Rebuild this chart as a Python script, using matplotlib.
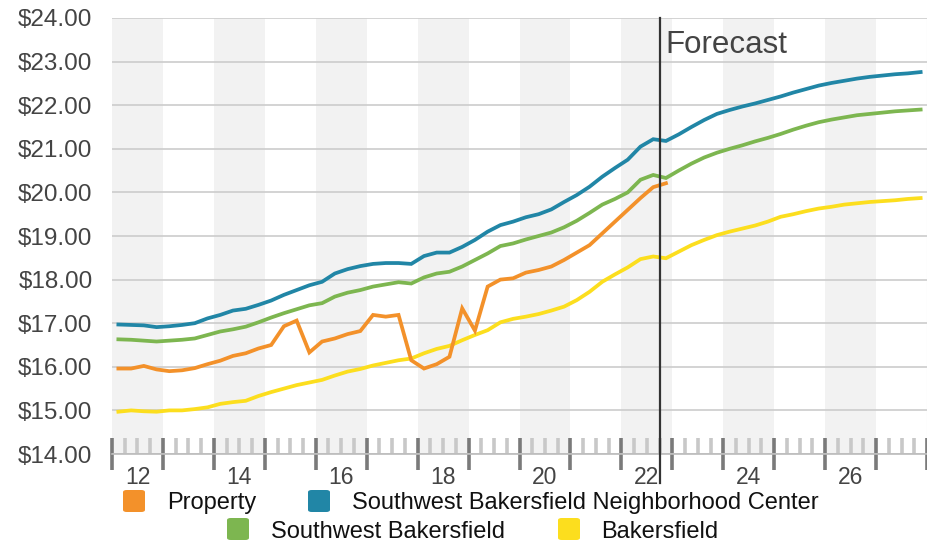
#################################
######## Library Imports ########
#################################
import numpy as np
import matplotlib
matplotlib.use("Agg")
import matplotlib.pyplot as plt
from matplotlib.patches import FancyBboxPatch

plt.rcParams['font.family'] = ['Liberation Sans', 'DejaVu Sans']

######################################
########## Data (quarterly) ##########
######################################
# rent per sq ft, quarterly from 2012 Q1 to 2027 Q4
start_year = 12
property_rent = [15.96, 15.96, 16.02, 15.94, 15.90, 15.92, 15.97, 16.06, 16.14, 16.25, 16.31, 16.42,
                 16.50, 16.93, 17.06, 16.33, 16.58, 16.65, 16.75, 16.82, 17.19, 17.15, 17.19, 16.15,
                 15.96, 16.06, 16.23, 17.34, 16.83, 17.84, 18.00, 18.03, 18.16, 18.22, 18.30, 18.45,
                 18.62, 18.79, 19.06, 19.33, 19.60, 19.87, 20.12, 20.21]
nbhd_center = [16.97, 16.96, 16.95, 16.91, 16.93, 16.96, 17.00, 17.11, 17.19, 17.29, 17.33, 17.42,
               17.52, 17.65, 17.76, 17.87, 17.95, 18.14, 18.24, 18.31, 18.36, 18.38, 18.38, 18.36,
               18.54, 18.62, 18.62, 18.75, 18.91, 19.10, 19.25, 19.33, 19.43, 19.50, 19.61, 19.78,
               19.94, 20.13, 20.36, 20.56, 20.75, 21.05, 21.22, 21.18, 21.33, 21.50, 21.66, 21.80,
               21.89, 21.97, 22.04, 22.12, 22.20, 22.29, 22.37, 22.45, 22.51, 22.56, 22.61, 22.65,
               22.68, 22.71, 22.73, 22.76]
sw_bakersfield = [16.63, 16.62, 16.60, 16.58, 16.60, 16.62, 16.65, 16.73, 16.81, 16.86, 16.92, 17.02,
                  17.13, 17.23, 17.32, 17.41, 17.46, 17.61, 17.70, 17.76, 17.84, 17.89, 17.94, 17.91,
                  18.05, 18.14, 18.18, 18.30, 18.45, 18.60, 18.77, 18.83, 18.92, 19.00, 19.08, 19.20,
                  19.35, 19.53, 19.72, 19.85, 20.00, 20.29, 20.40, 20.33, 20.50, 20.66, 20.80, 20.91,
                  21.00, 21.08, 21.17, 21.25, 21.34, 21.44, 21.53, 21.61, 21.67, 21.72, 21.77, 21.80,
                  21.83, 21.86, 21.88, 21.90]
bakersfield = [14.97, 15.00, 14.98, 14.97, 15.00, 15.00, 15.03, 15.07, 15.15, 15.19, 15.22, 15.33,
               15.42, 15.50, 15.58, 15.64, 15.70, 15.80, 15.89, 15.95, 16.03, 16.09, 16.15, 16.19,
               16.31, 16.41, 16.48, 16.61, 16.73, 16.84, 17.02, 17.10, 17.15, 17.21, 17.29, 17.38,
               17.53, 17.72, 17.95, 18.12, 18.28, 18.47, 18.53, 18.49, 18.64, 18.79, 18.91, 19.02,
               19.10, 19.17, 19.24, 19.33, 19.44, 19.50, 19.57, 19.63, 19.67, 19.72, 19.75, 19.78,
               19.80, 19.82, 19.85, 19.87]

year_labels = ["12", "14", "16", "18", "20", "22", "24", "26"]
y_ticks = [14, 15, 16, 17, 18, 19, 20, 21, 22, 23, 24]
forecast_at = 22.75

series_names = ["Property", "Southwest Bakersfield Neighborhood Center",
                "Southwest Bakersfield", "Bakersfield"]
series_colors = ["#F3912A", "#2186A6", "#7DB650", "#FCDE1E"]

#quarter centres
def quarters(n):
    return start_year + (np.arange(n) + 0.5) / 4.0

##########################################
################ Plotting ################
##########################################
fig = plt.figure(figsize=(9.28, 5.43), dpi=100)
W, H = 928, 543
ax = fig.add_axes([112 / W, 1 - 454 / H, 815 / W, 436 / H])

# alternating year bands
for yr in range(12, 28, 2):
    ax.axvspan(yr, yr + 1, color="#f2f2f2", lw=0, zorder=0)

data = [nbhd_center, sw_bakersfield, bakersfield, property_rent]
colors = [series_colors[1], series_colors[2], series_colors[3], series_colors[0]]
for vals, c in zip(data, colors):
    ax.plot(quarters(len(vals)), vals, color=c, lw=2.7, solid_joinstyle="miter", zorder=3)

ax.set_xlim(12, 28)
ax.set_ylim(14, 24)

# y axis
ax.set_yticks(y_ticks)
ax.set_yticklabels(["${:.2f}".format(v) for v in y_ticks], fontsize=17.5, color="#444444")
ax.tick_params(axis="y", length=0, pad=14)
ax.yaxis.grid(True, color="#cccccc", lw=1.2, zorder=1)
ax.set_axisbelow(True)

# x axis: year ticks, quarter minor ticks, labels mid-year
ax.set_xticks(np.arange(12, 29))
ax.set_xticks([y + q / 4 for y in range(12, 28) for q in (1, 2, 3)], minor=True)
ax.tick_params(axis="x", which="major", direction="inout", length=23, width=2.6,
               color="#7a7a7a", labelbottom=False)
ax.tick_params(axis="x", which="minor", direction="in", length=11.5, width=2.6,
               color="#c8c8c8")
for i, lab in enumerate(year_labels):
    ax.text(12 + 2 * i + 0.5, -24 / 436, lab, transform=ax.get_xaxis_transform(),
            ha="center", va="center", fontsize=16.5, color="#444444")

for s in ["top", "left"]:
    ax.spines[s].set_visible(False)
ax.spines["bottom"].set_color("#bbbbbb")
ax.spines["bottom"].set_linewidth(1.2)
ax.spines["right"].set_color("#dddddd")

# forecast marker
ax.axvline(forecast_at, ymin=-29 / 436, ymax=1, color="#333333", lw=1.6, clip_on=False, zorder=4)
ax.text(forecast_at + 0.12, (454 - 45) / 436, "Forecast", transform=ax.get_xaxis_transform(),
        ha="left", va="center", fontsize=22.5, color="#444444")

##########################################
################ Legend ##################
##########################################
legend_rows = [
    [(123, 167, 0), (308, 352, 1)],
    [(227, 271, 2), (558, 601, 3)],
]
row_y = [501, 529]
for row, yc in zip(legend_rows, row_y):
    for sq_x, txt_x, k in row:
        box = FancyBboxPatch((sq_x / W, 1 - (yc + 11) / H), 22 / W, 22 / H,
                             boxstyle="round,pad=0,rounding_size=0.004",
                             transform=fig.transFigure, facecolor=series_colors[k],
                             edgecolor="none")
        fig.patches.append(box)
        fig.text(txt_x / W, 1 - yc / H, series_names[k], ha="left", va="center_baseline",
                 fontsize=17, color="#111111")

fig.savefig("out.png", dpi=100)
